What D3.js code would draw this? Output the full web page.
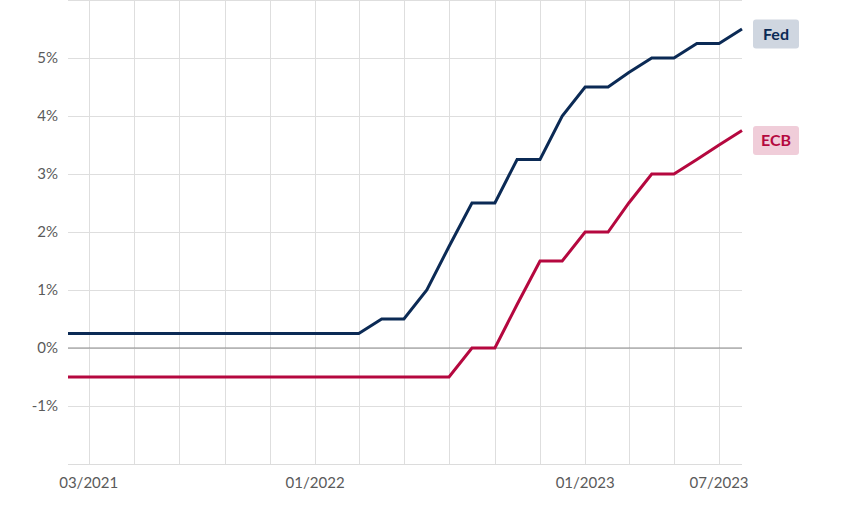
<!DOCTYPE html>
<html>
<head>
<meta charset="utf-8">
<script src="https://cdn.jsdelivr.net/npm/d3@7"></script>
<style>
body{margin:0;background:#fff;}
svg{display:block;font-family:"Source Sans Pro","Lato","Noto Sans",sans-serif;}
</style>
</head>
<body>
<svg id="chart" width="843" height="506"></svg>
<script>
const months = ["2021-02","2021-03","2021-04","2021-05","2021-06","2021-07","2021-08","2021-09","2021-10","2021-11","2021-12",
"2022-01","2022-02","2022-03","2022-04","2022-05","2022-06","2022-07","2022-08","2022-09","2022-10","2022-11","2022-12",
"2023-01","2023-02","2023-03","2023-04","2023-05","2023-06","2023-07","2023-08"];
const fed = [0.25,0.25,0.25,0.25,0.25,0.25,0.25,0.25,0.25,0.25,0.25,
0.25,0.25,0.25,0.5,0.5,1.0,1.75,2.5,2.5,3.25,3.25,4.0,
4.5,4.5,4.75,5.0,5.0,5.25,5.25,5.5];
const ecb = [-0.5,-0.5,-0.5,-0.5,-0.5,-0.5,-0.5,-0.5,-0.5,-0.5,-0.5,
-0.5,-0.5,-0.5,-0.5,-0.5,-0.5,-0.5,0,0,0.75,1.5,1.5,
2.0,2.0,2.5,3.0,3.0,3.25,3.5,3.75];
const yTicks = [-1,0,1,2,3,4,5];
const yGrid = [-1,0,1,2,3,4,5,6];
const xGridMonths = ["2021-03","2021-05","2021-07","2021-09","2021-11","2022-01","2022-03","2022-05","2022-07","2022-09","2022-11","2023-01","2023-03","2023-05","2023-07"];
const xLabelMonths = ["2021-03","2022-01","2023-01","2023-07"];
const seriesNames = ["Fed","ECB"];
const seriesColors = ["#0b2a55","#b5083f"];
const labelBg = ["#cfd6e0","#f0cdd9"];

const parse = d3.timeParse("%Y-%m");
const fmt = d3.timeFormat("%m/%Y");
const dates = months.map(parse);

const svg = d3.select("#chart");
const x = d3.scaleTime().domain([parse("2021-02"), parse("2023-08")]).range([68, 742]);
const y = d3.scaleLinear().domain([-2, 6]).range([464, 0]);

// horizontal grid
svg.append("g").selectAll("line").data(yGrid).join("line")
  .attr("x1", 68).attr("x2", 742)
  .attr("y1", d => y(d)+0.5).attr("y2", d => y(d)+0.5)
  .attr("stroke", "#dedede").attr("stroke-width", 1);

// vertical grid
svg.append("g").selectAll("line").data(xGridMonths.map(parse)).join("line")
  .attr("x1", d => Math.round(x(d))+0.5).attr("x2", d => Math.round(x(d))+0.5)
  .attr("y1", 0).attr("y2", 464)
  .attr("stroke", "#dedede").attr("stroke-width", 1);

// bottom axis line
svg.append("line").attr("x1", 68).attr("x2", 742)
  .attr("y1", y(-2)+0.5).attr("y2", y(-2)+0.5)
  .attr("stroke", "#dcdcdc");

// zero line
svg.append("line").attr("x1", 68).attr("x2", 742)
  .attr("y1", y(0)).attr("y2", y(0))
  .attr("stroke", "#8c8c8c").attr("stroke-width", 1.2);

// y labels
svg.append("g").selectAll("text").data(yTicks).join("text")
  .attr("x", 58).attr("y", d => y(d)).attr("dy", "0.35em")
  .attr("text-anchor", "end").attr("fill", "#5a5a5a")
  .attr("font-size", 15)
  .text(d => d + "%");

// x labels
svg.append("g").selectAll("text").data(xLabelMonths.map(parse)).join("text")
  .attr("x", d => x(d)).attr("y", 488)
  .attr("text-anchor", "middle").attr("fill", "#5a5a5a")
  .attr("font-size", 15)
  .text(d => fmt(d));

const line = d3.line().x((d,i) => x(dates[i])).y(d => y(d));
[fed, ecb].forEach((vals, k) => {
  svg.append("path").datum(vals)
    .attr("d", line)
    .attr("fill", "none")
    .attr("stroke", seriesColors[k])
    .attr("stroke-width", 3)
    .attr("stroke-linejoin", "miter");
});

// end labels
const labelOffsets = [5, 10];
[fed, ecb].forEach((vals, k) => {
  const cy = y(vals[vals.length-1]) + labelOffsets[k];
  const g = svg.append("g");
  g.append("rect").attr("x", 753).attr("y", cy - 14.5)
    .attr("width", 46).attr("height", 29).attr("rx", 3)
    .attr("fill", labelBg[k]);
  g.append("text").attr("x", 776).attr("y", cy).attr("dy", "0.36em")
    .attr("text-anchor", "middle").attr("font-weight", "bold")
    .attr("font-size", 16).attr("fill", seriesColors[k])
    .text(seriesNames[k]);
});
</script>
</body>
</html>
